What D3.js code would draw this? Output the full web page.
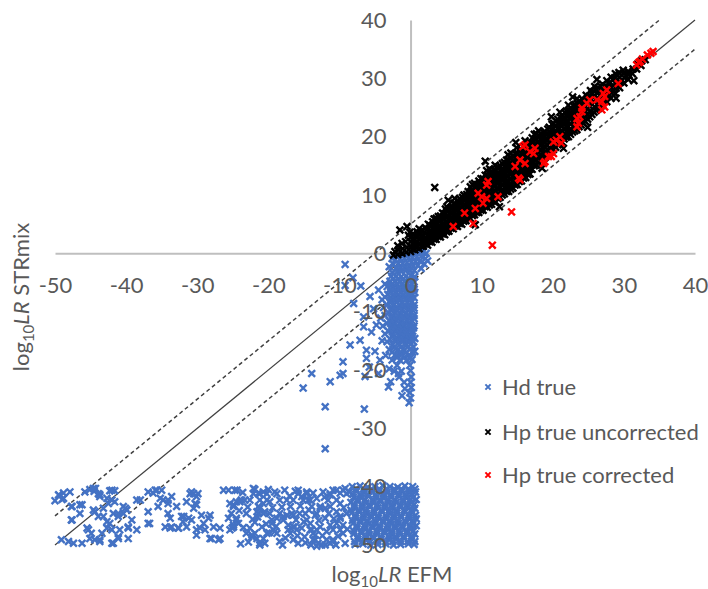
<!DOCTYPE html>
<html><head><meta charset="utf-8">
<script src="https://cdn.jsdelivr.net/npm/d3@7"></script>
<style>
body{margin:0;background:#fff}
svg{display:block}
text{font-family:Lato,"Open Sans",sans-serif;fill:#595959}
</style>
</head><body>
<svg id="chart" width="708" height="589"></svg>
<script>
const xTicks=[-50,-40,-30,-20,-10,0,10,20,30,40];
const yTicks=[-50,-40,-30,-20,-10,0,10,20,30,40];
const seriesNames=["Hd true","Hp true uncorrected","Hp true corrected"];
const seriesColors=["#4472C4","#000000","#FF0000"];
const identityLine=[[-50,-50],[40,40]];
const upperLine=[[-50,-45],[35,40]];
const lowerLine=[[-45,-50],[40,35]];

const hdTrue=[
[-9.2,-1.9],[-8.1,-4.2],[-9.2,-5.5],[-7.0,-5.6],[-8.0,-8.6],[-5.7,-7.4],[-4.5,-6.3],[-6.6,-10.9],[-5.2,-9.5],[-6.6,-12.6],[-4.8,-12.3],[-5.5,-13.5],[-7.1,-14.9],[-8.5,-15.7],[-4.0,-15.0],[-6.2,-16.6],[-5.0,-16.8],[-3.5,-17.5],[-6.2,-18.0],[-9.5,-18.6],[-4.3,-18.3],[-5.8,-19.5],[-3.0,-19.8],[-9.9,-20.9],[-9.5,-20.6],[-13.9,-20.6],[-6.4,-21.1],[-4.5,-20.6],[-1.7,-20.6],[-11.3,-22.0],[-2.8,-22.0],[-3.1,-22.9],[-15.1,-23.1],[-12.0,-26.3],[-6.5,-26.7],[-12.0,-33.5],
[-1.8,-0.6],[-1.2,-0.3],[-0.6,-0.2],[0.0,-0.1],[0.6,0.1],[1.2,0.2],[1.8,0.3],[2.2,0.0],
[-2.2,-1.2],[-1.5,-1.0],[-0.9,-0.9],[-0.3,-0.8],[0.3,-0.7],[0.9,-0.6],[1.5,-0.5],[2.1,-0.9],
[-2.4,-1.9],[-1.7,-1.8],[-1.1,-1.7],[-0.5,-1.6],[0.1,-1.5],[0.7,-1.4],[1.3,-1.3],[1.9,-1.8],
[-2.0,-2.6],[-1.4,-2.5],[-0.8,-2.4],[-0.2,-2.3],[0.4,-2.2],[1.0,-2.1],[1.5,-2.6],
[-2.6,-3.3],[-1.9,-3.2],[-1.3,-3.1],[-0.7,-3.0],[-0.1,-2.9],[0.5,-2.9],
[-2.6,-0.9],[-3.0,-2.3],[2.4,-1.3],
[-2.7,-3.9],[-2.0,-3.9],[-1.3,-4.0],[-0.6,-3.9],[0.1,-3.8],[0.6,-4.0],
[-2.4,-4.35],[-1.7,-4.35],[-1.0,-4.35],[-0.3,-4.35],[0.3,-4.35],
[-2.9,-4.8],[-2.2,-4.8],[-1.5,-4.9],[-0.8,-4.8],[-0.1,-4.7],[0.5,-4.9],
[-3.6,-5.25],[-2.6,-5.25],[-1.9,-5.25],[-1.2,-5.25],[-0.5,-5.25],[0.2,-5.25],
[-3.3,-5.7],[-2.5,-5.7],[-1.7,-5.8],[-1.0,-5.7],[-0.3,-5.6],[0.4,-5.8],
[-2.9,-6.15],[-2.2,-6.15],[-1.5,-6.15],[-0.8,-6.15],[-0.1,-6.15],[0.5,-6.15],
[-2.8,-6.6],[-2.1,-6.6],[-1.4,-6.7],[-0.7,-6.6],[0.0,-6.5],[0.6,-6.7],
[-3.2,-7.05],[-2.4,-7.05],[-1.7,-7.05],[-1.0,-7.05],[-0.3,-7.05],[0.3,-7.05],
[-3.6,-7.5],[-2.4,-7.5],[-1.6,-7.6],[-0.9,-7.5],[-0.2,-7.4],[0.5,-7.6],
[-4.0,-7.95],[-2.8,-7.95],[-2.1,-7.95],[-1.4,-7.95],[-0.7,-7.95],[0.0,-7.95],
[-2.9,-8.4],[-2.0,-8.4],[-1.2,-8.5],[-0.5,-8.4],[0.2,-8.3],
[-3.3,-8.85],[-2.4,-8.85],[-1.6,-8.85],[-0.8,-8.85],[-0.1,-8.85],[0.5,-8.85],
[-3.8,-9.3],[-2.6,-9.3],[-1.7,-9.4],[-0.9,-9.3],[-0.2,-9.2],[0.5,-9.4],
[-2.8,-9.75],[-2.0,-9.75],[-1.2,-9.75],[-0.4,-9.75],[0.3,-9.75],
[-3.1,-10.2],[-2.2,-10.2],[-1.4,-10.3],[-0.6,-10.2],[0.1,-10.1],
[-3.6,-10.65],[-2.5,-10.65],[-1.7,-10.65],[-0.9,-10.65],[-0.2,-10.65],[0.5,-10.65],
[-4.2,-11.1],[-2.7,-11.1],[-1.8,-11.2],[-1.0,-11.1],[-0.3,-11.0],[0.5,-11.2],
[-3.0,-11.55],[-2.0,-11.55],[-1.2,-11.55],[-0.5,-11.55],[0.2,-11.55],
[-3.3,-12.0],[-2.3,-12.0],[-1.5,-12.1],[-0.7,-12.0],[0.0,-11.9],
[-3.9,-12.45],[-2.6,-12.45],[-1.7,-12.45],[-0.9,-12.45],[-0.2,-12.45],[0.5,-12.45],
[-2.8,-12.9],[-1.9,-12.9],[-1.1,-13.0],[-0.4,-12.9],[0.4,-12.8],
[-3.1,-13.35],[-2.1,-13.35],[-1.3,-13.35],[-0.5,-13.35],[0.3,-13.35],
[-3.6,-13.8],[-2.4,-13.8],[-1.4,-13.9],[-0.6,-13.8],[0.2,-13.7],
[-2.6,-14.25],[-1.6,-14.25],[-0.8,-14.25],[0.0,-14.25],
[-2.9,-14.7],[-1.9,-14.7],[-1.0,-14.8],[-0.2,-14.7],[0.6,-14.6],
[-3.3,-15.15],[-2.1,-15.15],[-1.2,-15.15],[-0.4,-15.15],[0.4,-15.15],
[-2.5,-15.6],[-1.5,-15.6],[-0.6,-15.7],[0.1,-15.5],
[-2.3,-16.05],[-1.3,-16.05],[-0.4,-16.05],[0.4,-16.05],
[-3.0,-16.5],[-1.8,-16.5],[-0.9,-16.6],[0.0,-16.4],[0.6,-16.8],
[-2.6,-16.95],[-1.5,-16.95],[-0.6,-16.95],[0.3,-16.95],
[-2.2,-17.4],[-1.2,-17.4],[-0.3,-17.5],
[-1.9,-17.85],[-0.9,-17.85],[0.0,-17.85],
[-2.6,-18.3],[-1.5,-18.3],[-0.6,-18.4],[0.2,-18.2],
[-1.9,-19.2],[-0.1,-19.2],[-2.3,-20.2],[-1.3,-20.2],[0.0,-20.1],
[-1.6,-21.2],[0.1,-21.2],[-0.9,-22.1],[0.0,-22.1],
[0.1,-23.0],[-0.1,-23.9],[0.0,-24.8],[-0.2,-25.6],[-1.2,-24.4],[-0.8,-23.2],
[-50.0,-42.4],[-49.4,-41.5],[-48.8,-41.1],[-47.9,-40.9],[-49.0,-42.2],[-47.7,-43.4],[-46.5,-43.1],[-45.8,-40.9],[-45.1,-40.5],[-44.5,-40.8],[-43.9,-41.2],[-44.3,-40.3],[-43.7,-41.7],[-42.7,-42.0],[-42.3,-40.7],[-41.6,-40.7],[-41.6,-42.6],[-42.5,-42.9],[-44.4,-44.3],[-46.5,-44.6],[-47.7,-45.7],[-45.3,-47.4],[-44.9,-48.0],[-44.4,-49.1],[-43.7,-49.1],[-43.4,-48.0],[-43.2,-45.1],[-42.7,-46.0],[-42.3,-46.3],[-41.8,-44.6],[-41.1,-44.6],[-40.4,-43.4],[-40.4,-44.6],[-39.9,-44.0],[-39.2,-45.7],[-39.7,-47.1],[-40.9,-47.4],[-41.1,-48.6],[-41.8,-49.7],[-42.0,-47.4],[-38.5,-47.4],[-38.5,-42.3],[-38.0,-42.3],[-36.9,-44.3],[-36.7,-46.3],[-36.2,-41.1],[-35.7,-40.6],[-35.0,-40.6],[-34.8,-42.3],[-34.1,-42.9],[-34.1,-44.6],[-33.6,-41.7],[-33.8,-45.4],[-34.5,-46.9],[-33.8,-47.1],[-32.7,-47.1],[-32.2,-45.1],[-32.0,-46.0],[-31.5,-42.6],[-31.0,-41.2],[-30.5,-41.2],[-30.1,-41.7],[-29.9,-41.2],[-30.3,-42.9],[-30.5,-43.7],[-30.8,-45.7],[-30.1,-47.4],[-29.6,-47.1],[-28.9,-47.4],[-29.1,-46.3],[-28.4,-45.4],[-28.2,-44.9],[-28.2,-48.9],[-27.7,-46.9],[-27.0,-49.1],[-26.8,-47.1],[-26.3,-40.6],[-25.6,-40.6],
[-49.1,-49.1],[-48.1,-49.4],[-47.4,-49.7],[-46.2,-49.7],[-45.1,-48.9],[-43.7,-49.4],[-42.0,-49.7],[-41.1,-48.9],[-39.7,-48.9],[-39.7,-46.9],[-42.7,-47.1],[-45.5,-47.1],[-47.6,-45.7],[-47.6,-43.4],[-46.2,-43.1],[-44.6,-44.0],[-43.9,-45.1],[-43.2,-43.7],[-41.1,-45.1],[-40.1,-43.7],[-44.6,-40.3],[-43.7,-41.4],[-42.0,-40.6],[-42.0,-42.3],[-36.9,-40.9],[-35.9,-40.6],[-35.2,-42.0],[-35.5,-43.4],[-34.1,-42.3],[-32.9,-43.4],[-36.9,-46.3],[-33.6,-46.9],[-32.6,-47.1],[-31.5,-46.9],[-31.2,-45.4],[-31.9,-45.1],[-30.8,-40.9],[-30.1,-43.1],[-29.4,-44.9],[-30.1,-48.3],[-28.0,-48.9],[-26.8,-48.9],[-24.4,-40.6],[-25.4,-42.9],[-25.6,-45.4],[-25.1,-47.1],[-24.9,-43.1],[-48.8,-42.0],[-49.5,-41.4],
[-24.7,-40.6],[-24.9,-43.4],[-25.2,-44.6],[-24.5,-45.7],[-24.9,-46.9],[-25.4,-47.4],[-24.2,-46.3],[-24.0,-42.6],[-23.3,-42.3],[-23.1,-44.6],[-23.1,-48.0],[-22.3,-48.6],[-22.6,-42.3],[-22.1,-41.2],[-21.9,-40.5],[-21.2,-41.2],[-21.2,-42.3],[-21.4,-43.4],[-21.4,-44.6],[-20.7,-44.6],[-20.7,-42.9],[-20.2,-41.2],[-20.2,-48.0],[-20.5,-49.7],[-21.2,-50.0],[-21.6,-48.9],[-21.9,-48.0],[-20.2,-42.3],[-19.8,-44.6],[-19.5,-45.7],[-19.3,-47.4],[-18.8,-48.0],[-18.8,-41.2],[-18.4,-42.3],[-18.4,-44.6],[-17.9,-45.7],[-17.2,-47.4],[-16.9,-48.0],[-16.5,-46.9],[-16.0,-47.4],[-16.5,-49.1],[-15.8,-49.7],[-17.4,-42.3],[-16.5,-42.3],[-16.7,-44.6],[-15.8,-41.2],[-15.3,-41.7],[-15.1,-42.3],[-15.6,-44.6],[-14.8,-44.6],[-14.6,-45.7],[-14.1,-46.3],[-13.9,-47.4],[-13.7,-48.0],[-13.2,-47.4],[-12.7,-46.9],[-13.4,-49.1],[-13.2,-50.2],[-12.5,-50.0],[-12.0,-50.0],[-11.3,-49.7],[-10.9,-49.1],[-12.7,-43.4],[-12.0,-43.7],[-11.6,-42.3],[-11.3,-41.2],[-10.9,-40.6],[-10.4,-42.3],[-9.9,-42.9],[-9.5,-40.6],[-9.0,-41.2],[-9.0,-44.6],[-9.9,-45.1],[-10.4,-46.3],[-10.9,-47.4],[-9.5,-48.0],[-13.2,-44.6],[-13.9,-43.4],[-14.4,-42.3],[-14.6,-41.2],
[-24.5,-42.6],[-23.8,-42.3],[-24.5,-45.4],[-24.9,-46.6],[-22.1,-40.3],[-21.4,-41.1],[-20.7,-40.9],[-21.2,-43.7],[-21.6,-44.3],[-20.5,-44.3],[-19.8,-42.6],[-19.1,-40.9],[-17.7,-40.6],[-19.5,-46.3],[-18.8,-45.4],[-17.9,-45.1],[-17.2,-46.6],[-16.5,-44.9],[-16.3,-46.9],[-15.3,-47.1],[-15.8,-40.6],[-14.6,-40.9],[-14.1,-42.3],[-13.2,-42.0],[-12.7,-43.7],[-13.4,-44.9],[-11.3,-43.4],[-12.0,-45.4],[-11.3,-46.6],[-11.8,-47.7],[-13.4,-48.3],[-13.7,-49.1],[-13.0,-49.7],[-11.8,-49.1],[-10.9,-49.4],[-14.1,-47.4],[-14.9,-48.6],[-22.6,-47.1],[-22.3,-48.3],[-21.2,-49.7],[-20.7,-48.9],[-19.1,-47.7],[-18.4,-49.4],[-10.4,-40.6],[-9.2,-40.3],[-10.4,-44.3],[-9.9,-45.4],[-9.5,-46.6],[-9.9,-47.4],[-9.9,-41.1],[-12.3,-40.9],[-11.3,-41.4],
[-23.6,-41.0],[-22.9,-43.5],[-22.2,-45.6],[-23.5,-47.0],[-22.8,-49.5],[-21.9,-46.1],[-20.9,-46.9],[-20.0,-40.5],[-19.4,-43.6],[-18.9,-46.8],[-18.1,-43.5],[-17.6,-48.8],[-17.0,-41.6],[-16.9,-43.4],[-16.1,-45.7],[-15.5,-43.3],[-15.0,-46.0],[-14.8,-49.6],[-14.3,-44.0],[-13.7,-41.1],[-12.9,-45.8],[-12.4,-48.4],[-12.1,-41.8],[-11.5,-44.6],[-10.8,-45.5],[-10.2,-48.5],[-9.4,-43.6],[-9.2,-49.7],[-8.9,-47.3],[-10.5,-50.0],[-23.9,-49.8],[-24.1,-44.1],[-19.9,-47.9],[-18.0,-50.0],[-16.2,-40.8],[-14.0,-50.0],[-21.5,-45.2],[-20.3,-46.4],[-17.4,-44.9],[-15.9,-48.4],
[-8.2,-40.0],[-7.1,-39.9],[-6.0,-40.1],[-5.0,-40.0],[-3.9,-39.8],[-2.9,-40.0],[-1.8,-40.1],[-0.8,-39.9],[0.3,-40.0],
[-7.7,-40.4],[-6.6,-40.4],[-5.5,-40.4],[-4.4,-40.4],[-3.4,-40.4],[-2.3,-40.4],[-1.3,-40.4],[-0.3,-40.4],[0.6,-40.4],
[-8.6,-40.9],[-7.6,-40.8],[-6.5,-41.0],[-5.4,-40.9],[-4.4,-40.8],[-3.3,-41.0],[-2.3,-40.9],[-1.2,-40.8],[-0.2,-41.0],[0.7,-40.9],
[-8.1,-41.3],[-7.1,-41.3],[-6.0,-41.3],[-4.9,-41.3],[-3.8,-41.3],[-2.8,-41.3],[-1.7,-41.3],[-0.7,-41.3],[0.2,-41.3],
[-8.0,-41.8],[-6.9,-41.9],[-5.9,-41.7],[-4.8,-41.8],[-3.8,-41.9],[-2.7,-41.8],[-1.6,-41.7],[-0.6,-41.9],[0.4,-41.8],
[-7.5,-42.2],[-6.4,-42.2],[-5.3,-42.2],[-4.3,-42.2],[-3.2,-42.2],[-2.2,-42.2],[-1.1,-42.2],[-0.1,-42.2],[0.8,-42.2],
[-8.4,-42.7],[-7.4,-42.6],[-6.3,-42.8],[-5.2,-42.7],[-4.2,-42.6],[-3.1,-42.8],[-2.0,-42.7],[-1.0,-42.6],[0.1,-42.7],
[-7.9,-43.1],[-6.8,-43.1],[-5.8,-43.1],[-4.7,-43.1],[-3.6,-43.1],[-2.6,-43.1],[-1.5,-43.1],[-0.5,-43.1],[0.5,-43.1],
[-7.9,-43.6],[-6.8,-43.7],[-5.7,-43.5],[-4.6,-43.6],[-3.6,-43.7],[-2.5,-43.6],[-1.4,-43.5],[-0.4,-43.6],[0.6,-43.7],
[-8.4,-44.0],[-7.3,-44.0],[-6.3,-44.0],[-5.2,-44.0],[-4.1,-44.0],[-3.0,-44.0],[-2.0,-44.0],[-0.9,-44.0],[0.1,-44.0],
[-8.3,-44.5],[-7.2,-44.4],[-6.2,-44.6],[-5.1,-44.5],[-4.0,-44.4],[-2.9,-44.6],[-1.9,-44.5],[-0.8,-44.4],[0.3,-44.5],
[-7.8,-44.9],[-6.7,-44.9],[-5.6,-44.9],[-4.6,-44.9],[-3.5,-44.9],[-2.4,-44.9],[-1.4,-44.9],[-0.3,-44.9],[0.7,-44.9],
[-7.7,-45.4],[-6.6,-45.5],[-5.5,-45.3],[-4.5,-45.4],[-3.4,-45.5],[-2.3,-45.4],[-1.3,-45.3],[-0.2,-45.4],[0.8,-45.5],
[-8.2,-45.8],[-7.1,-45.8],[-6.1,-45.8],[-5.0,-45.8],[-3.9,-45.8],[-2.9,-45.8],[-1.8,-45.8],[-0.8,-45.8],[0.3,-45.8],
[-8.1,-46.3],[-7.0,-46.2],[-5.9,-46.4],[-4.9,-46.3],[-3.8,-46.2],[-2.7,-46.4],[-1.7,-46.3],[-0.6,-46.2],[0.4,-46.3],
[-7.6,-46.7],[-6.5,-46.7],[-5.4,-46.7],[-4.4,-46.7],[-3.3,-46.7],[-2.2,-46.7],[-1.2,-46.7],[-0.1,-46.7],[0.8,-46.7],
[-7.5,-47.2],[-6.4,-47.3],[-5.3,-47.1],[-4.3,-47.2],[-3.2,-47.3],[-2.1,-47.2],[-1.1,-47.1],[0.0,-47.2],
[-8.0,-47.6],[-6.9,-47.6],[-5.9,-47.6],[-4.8,-47.6],[-3.7,-47.6],[-2.7,-47.6],[-1.6,-47.6],[-0.5,-47.6],[0.4,-47.6],
[-8.0,-48.1],[-6.9,-48.0],[-5.8,-48.2],[-4.7,-48.1],[-3.6,-48.0],[-2.6,-48.2],[-1.5,-48.1],[-0.5,-48.0],[0.6,-48.1],
[-7.4,-48.5],[-6.4,-48.5],[-5.3,-48.5],[-4.2,-48.5],[-3.1,-48.5],[-2.1,-48.5],[-1.0,-48.5],[0.1,-48.5],
[-7.4,-49.0],[-6.3,-49.1],[-5.2,-48.9],[-4.1,-49.0],[-3.0,-49.1],[-2.0,-49.0],[-0.9,-48.9],[0.2,-49.0],
[-7.9,-49.4],[-6.8,-49.4],[-5.7,-49.4],[-4.6,-49.4],[-3.5,-49.4],[-2.5,-49.4],[-1.4,-49.4],[-0.4,-49.4],[0.6,-49.4],
[-7.8,-49.9],[-6.7,-49.8],[-5.6,-50.0],[-4.6,-49.9],[-3.5,-49.8],[-2.4,-50.0],[-1.4,-49.9],[-0.3,-49.8],[0.5,-49.9]
];

const hpUncorrected=[
[-2.4,-0.3],[-2.2,0.3],[-1.8,-0.2],[-1.7,0.6],[-1.8,1.3],[-1.5,4.0],[-1.2,0.0],[-1.1,0.8],[-1.2,1.7],[-0.6,0.2],[-0.5,1.0],[-0.7,2.0],[-0.5,4.6],[-0.3,3.1],
[0.0,0.3],[0.1,1.1],[0.0,2.0],[0.1,2.9],[-0.1,3.6],
[0.6,0.6],[0.7,1.4],[0.6,2.3],[0.5,3.2],
[1.2,0.8],[1.2,1.7],[1.3,2.6],[1.1,3.5],[1.2,4.2],
[1.8,1.2],[1.9,2.1],[1.8,3.0],[1.7,3.9],
[2.4,1.4],[2.5,2.3],[2.4,3.2],[2.3,4.1],[2.5,5.0],
[3.0,1.9],[3.1,2.8],[3.0,3.7],[2.9,4.6],[3.1,5.4],[3.4,11.3],
[3.6,2.4],[3.7,3.3],[3.6,4.2],[3.5,5.1],[3.6,6.0],
[4.2,2.8],[4.3,3.7],[4.2,4.6],[4.1,5.5],[4.2,6.4],
[4.8,3.2],[4.9,4.1],[4.8,5.0],[4.7,5.9],[4.8,6.8],[4.9,7.6],
[5.4,3.8],[5.5,4.7],[5.4,5.6],[5.3,6.5],[5.4,7.4],[5.3,9.1],
[6.0,4.2],[6.1,5.1],[6.0,6.0],[5.9,6.9],[6.0,7.8],[6.1,8.6],[6.2,9.4],
[6.6,4.6],[6.7,5.5],[6.6,6.4],[6.5,7.3],[6.6,8.2],[6.7,9.0],
[7.2,5.0],[7.3,5.9],[7.2,6.8],[7.1,7.7],[7.2,8.6],[7.3,9.6],
[7.8,5.6],[7.9,6.5],[7.8,7.4],[7.7,8.3],[7.8,9.2],[7.9,10.1],
[8.4,6.0],[8.5,6.9],[8.4,7.8],[8.3,8.7],[8.4,9.6],[8.5,10.5],[8.4,11.4],
[9.1,4.9],[9.0,6.6],[9.1,7.5],[9.0,8.4],[8.9,9.3],[9.0,10.2],[9.1,11.1],[9.0,12.0],
[9.6,7.0],[9.7,7.9],[9.6,8.8],[9.5,9.7],[9.6,10.6],[9.7,11.5],[9.6,12.4],
[10.2,7.4],[10.3,8.3],[10.2,9.2],[10.1,10.1],[10.2,11.0],[10.3,11.9],[10.2,12.8],[10.5,15.8],
[10.8,7.9],[10.9,8.8],[10.8,9.7],[10.7,10.6],[10.8,11.5],[10.9,12.4],[10.8,13.3],[10.7,14.2],
[11.4,8.4],[11.5,9.3],[11.4,10.2],[11.3,11.1],[11.4,12.0],[11.5,12.9],[11.4,13.8],
[12.0,8.8],[12.1,9.7],[12.0,10.6],[11.9,11.5],[12.0,12.4],[12.1,13.3],[12.0,14.2],[11.9,15.1],[12.5,8.0],
[12.6,9.6],[12.7,10.5],[12.6,11.4],[12.5,12.3],[12.6,13.2],[12.7,14.1],[12.6,15.0],
[13.2,10.2],[13.3,11.1],[13.2,12.0],[13.1,12.9],[13.2,13.8],[13.3,14.7],[13.2,15.6],
[13.8,10.6],[13.9,11.5],[13.8,12.4],[13.7,13.3],[13.8,14.2],[13.9,15.1],[13.8,16.0],[13.7,16.9],
[14.4,11.2],[14.5,12.1],[14.4,13.0],[14.3,13.9],[14.4,14.8],[14.5,15.7],[14.4,16.6],[14.8,19.0],
[15.0,11.8],[15.1,12.7],[15.0,13.6],[14.9,14.5],[15.0,15.4],[15.1,16.3],[15.0,17.2],[14.9,18.1],
[15.6,12.4],[15.7,13.3],[15.6,14.2],[15.5,15.1],[15.6,16.0],[15.7,16.9],[15.6,17.8],
[16.2,13.0],[16.3,13.9],[16.2,14.8],[16.1,15.7],[16.2,16.6],[16.3,17.5],[16.2,18.4],[16.1,19.3],
[16.8,13.6],[16.9,14.5],[16.8,15.4],[16.7,16.3],[16.8,17.2],[16.9,18.1],[16.8,19.0],
[17.4,15.0],[17.5,15.9],[17.4,16.8],[17.3,17.7],[17.4,18.6],[17.5,19.5],[17.4,20.4],
[18.0,15.6],[18.1,16.5],[18.0,17.4],[17.9,18.3],[18.0,19.2],[18.1,20.1],[18.0,21.0],[18.5,14.6],
[18.6,16.2],[18.7,17.1],[18.6,18.0],[18.5,18.9],[18.6,19.8],[18.7,20.7],
[19.2,16.8],[19.3,17.7],[19.2,18.6],[19.1,19.5],[19.2,20.4],[19.3,21.3],
[19.8,17.6],[19.9,18.5],[19.8,19.4],[19.7,20.3],[19.8,21.2],[19.9,22.1],[19.8,23.4],
[20.4,18.2],[20.5,19.1],[20.4,20.0],[20.3,20.9],[20.4,21.8],[20.5,22.7],
[21.0,18.8],[21.1,19.7],[21.0,20.6],[20.9,21.5],[21.0,22.4],[21.1,23.3],[21.0,24.2],[21.5,18.0],
[21.6,19.6],[21.7,20.5],[21.6,21.4],[21.5,22.3],[21.6,23.2],[21.7,24.1],
[22.2,20.0],[22.3,20.9],[22.2,21.8],[22.1,22.7],[22.2,23.6],[22.3,24.5],[22.2,25.4],
[22.8,20.8],[22.9,21.7],[22.8,22.6],[22.7,23.5],[22.8,24.4],[22.9,25.3],[22.8,26.8],
[23.4,21.2],[23.5,22.1],[23.4,23.0],[23.3,23.9],[23.4,24.8],[23.5,25.7],[23.4,26.5],
[24.0,22.0],[24.1,22.9],[24.0,23.8],[23.9,24.7],[24.0,25.6],[24.1,26.5],
[24.6,22.6],[24.7,23.5],[24.6,24.4],[24.5,25.3],[24.6,26.2],[24.7,27.1],[24.9,21.6],
[25.2,23.4],[25.3,24.3],[25.2,25.2],[25.1,26.1],[25.2,27.0],[25.3,27.9],
[25.8,24.2],[25.9,25.1],[25.8,26.0],[25.7,26.9],[25.8,27.8],[25.9,28.6],
[26.4,24.8],[26.5,25.7],[26.4,26.6],[26.3,27.5],[26.4,28.4],[26.2,29.8],
[27.0,25.4],[27.1,26.3],[27.0,27.2],[26.9,28.1],[27.0,29.0],
[27.6,26.0],[27.7,26.9],[27.6,27.8],[27.5,28.7],[27.6,29.6],
[28.2,26.6],[28.3,27.5],[28.2,28.4],[28.1,29.3],[28.2,30.2],
[28.8,27.4],[28.9,28.3],[28.8,29.2],[28.7,30.1],[28.8,30.8],[28.9,26.6],
[29.4,28.4],[29.5,29.3],[29.4,30.2],[29.3,31.0],
[30.0,29.2],[30.1,30.1],[30.0,30.9],[29.9,31.4],
[30.6,29.8],[30.7,30.6],[30.6,31.2],[31.4,29.6],
[31.2,30.8],[31.3,31.6],[31.8,31.6],[31.9,32.4],[32.4,32.2],[32.5,33.0],[33.0,33.2],
[0.3,0.7],[0.3,1.6],[0.3,2.5],[0.3,3.3],
[0.9,1.0],[0.9,1.9],[0.9,2.8],[0.9,3.7],
[1.5,1.2],[1.5,2.1],[1.5,3.0],[1.5,3.9],
[2.1,1.6],[2.1,2.5],[2.1,3.4],[2.1,4.4],
[2.7,2.0],[2.7,2.9],[2.7,3.8],[2.7,4.8],
[3.3,2.4],[3.3,3.3],[3.3,4.2],[3.3,5.1],[3.3,5.9],
[3.9,2.9],[3.9,3.8],[3.9,4.7],[3.9,5.6],[3.9,6.3],
[4.5,3.3],[4.5,4.2],[4.5,5.1],[4.5,6.0],[4.5,6.9],
[5.1,3.7],[5.1,4.6],[5.1,5.5],[5.1,6.4],[5.1,7.3],[5.1,8.0],
[5.7,4.3],[5.7,5.2],[5.7,6.1],[5.7,7.0],[5.7,7.9],
[6.3,4.7],[6.3,5.6],[6.3,6.5],[6.3,7.4],[6.3,8.3],
[6.9,5.1],[6.9,6.0],[6.9,6.9],[6.9,7.8],[6.9,8.7],[6.9,9.4],
[7.5,5.5],[7.5,6.4],[7.5,7.3],[7.5,8.2],[7.5,9.1],[7.5,10.0],
[8.1,6.1],[8.1,7.0],[8.1,7.9],[8.1,8.8],[8.1,9.7],[8.1,10.6],
[8.7,6.5],[8.7,7.4],[8.7,8.3],[8.7,9.2],[8.7,10.1],[8.7,11.0],[8.7,11.8],
[9.3,7.0],[9.3,7.9],[9.3,8.8],[9.3,9.7],[9.3,10.6],[9.3,11.5],
[9.9,7.4],[9.9,8.3],[9.9,9.2],[9.9,10.1],[9.9,11.0],[9.9,11.9],[9.9,12.8],
[10.5,8.0],[10.5,8.9],[10.5,9.8],[10.5,10.7],[10.5,11.6],[10.5,12.5],[10.5,13.4],
[11.1,8.3],[11.1,9.2],[11.1,10.1],[11.1,11.0],[11.1,11.9],[11.1,12.8],[11.1,13.7],[11.1,14.5],
[11.7,8.9],[11.7,9.8],[11.7,10.7],[11.7,11.6],[11.7,12.5],[11.7,13.4],[11.7,14.3],
[12.3,9.4],[12.3,10.3],[12.3,11.2],[12.3,12.1],[12.3,13.0],[12.3,13.9],[12.3,14.8],
[12.9,10.0],[12.9,10.9],[12.9,11.8],[12.9,12.7],[12.9,13.6],[12.9,14.5],[12.9,15.4],
[13.5,10.6],[13.5,11.5],[13.5,12.4],[13.5,13.3],[13.5,14.2],[13.5,15.1],[13.5,16.0],
[14.1,11.0],[14.1,11.9],[14.1,12.8],[14.1,13.7],[14.1,14.6],[14.1,15.5],[14.1,16.4],[14.1,17.2],
[14.7,11.7],[14.7,12.6],[14.7,13.5],[14.7,14.4],[14.7,15.3],[14.7,16.2],[14.7,17.1],
[15.3,12.3],[15.3,13.2],[15.3,14.1],[15.3,15.0],[15.3,15.9],[15.3,16.8],[15.3,17.7],
[15.9,12.9],[15.9,13.8],[15.9,14.7],[15.9,15.6],[15.9,16.5],[15.9,17.4],[15.9,18.3],
[16.5,13.5],[16.5,14.4],[16.5,15.3],[16.5,16.2],[16.5,17.1],[16.5,18.0],[16.5,18.9],
[17.1,14.4],[17.1,15.3],[17.1,16.2],[17.1,17.1],[17.1,18.0],[17.1,18.9],[17.1,19.8],
[17.7,15.1],[17.7,16.0],[17.7,16.9],[17.7,17.8],[17.7,18.7],[17.7,19.6],[17.7,20.5],
[18.3,15.9],[18.3,16.8],[18.3,17.7],[18.3,18.6],[18.3,19.5],[18.3,20.4],
[18.9,16.4],[18.9,17.3],[18.9,18.2],[18.9,19.1],[18.9,20.0],[18.9,20.9],
[19.5,17.2],[19.5,18.1],[19.5,19.0],[19.5,19.9],[19.5,20.8],[19.5,21.6],
[20.1,17.8],[20.1,18.7],[20.1,19.6],[20.1,20.5],[20.1,21.4],[20.1,22.3],
[20.7,18.6],[20.7,19.5],[20.7,20.4],[20.7,21.3],[20.7,22.2],[20.7,23.0],
[21.3,19.1],[21.3,20.0],[21.3,20.9],[21.3,21.8],[21.3,22.7],[21.3,23.6],
[21.9,19.9],[21.9,20.8],[21.9,21.7],[21.9,22.6],[21.9,23.5],[21.9,24.4],
[22.5,20.4],[22.5,21.3],[22.5,22.2],[22.5,23.1],[22.5,24.0],[22.5,24.9],
[23.1,21.0],[23.1,21.9],[23.1,22.8],[23.1,23.7],[23.1,24.6],[23.1,25.5],
[23.7,21.7],[23.7,22.6],[23.7,23.5],[23.7,24.4],[23.7,25.3],[23.7,26.1],
[24.3,22.3],[24.3,23.2],[24.3,24.1],[24.3,25.0],[24.3,25.9],
[24.9,23.0],[24.9,23.9],[24.9,24.8],[24.9,25.7],[24.9,26.6],
[25.5,23.8],[25.5,25.6],[25.5,27.4],[26.1,24.5],[26.1,26.3],[26.1,28.1],
[26.7,25.1],[26.7,26.9],[26.7,28.7],[27.3,26.8],[27.3,28.6],[27.9,27.3],[27.9,29.1],
[28.5,28.0],[28.5,29.8],[29.1,28.8],[29.1,30.5],[29.7,29.7],[30.3,30.4]
];

const hpCorrected=[
[34.1,34.6],[33.8,34.3],[33.3,34.0],[32.3,32.9],[31.8,32.3],[32.1,32.7],[32.6,33.3],
[29.2,29.1],[27.6,28.0],[27.3,26.9],[27.3,25.1],[26.9,24.6],[26.2,26.3],[25.2,26.3],[24.8,25.7],[24.1,24.3],[23.8,23.4],[23.6,22.3],[23.4,21.7],[27.1,27.4],[26.9,26.0],[24.1,24.9],[23.4,23.1],
[21.0,20.0],[20.5,19.4],[20.1,19.1],[21.2,18.9],[20.1,17.1],[19.4,16.6],[18.7,15.4],[17.5,18.0],[17.3,17.1],[16.8,17.4],[15.8,18.3],[16.1,15.4],[15.4,16.0],[14.7,14.9],[15.4,12.6],[15.2,12.9],[18.9,15.7],[19.8,16.6],[16.1,18.6],
[10.9,12.3],[10.7,11.7],[9.5,10.3],[10.0,9.7],[10.7,9.4],[10.2,8.6],[12.3,9.7],[9.1,7.7],[7.6,6.9],[8.8,5.1],[6.0,4.6],[14.2,7.1],[11.5,1.4]
];

const svg=d3.select("#chart");
const x=d3.scaleLinear().domain([-50,40]).range([55,695]);
const y=d3.scaleLinear().domain([-50,40]).range([545,20]);

const xAxis=d3.axisBottom(x).tickValues(xTicks).tickFormat(d=>String(d)).tickSize(0).tickSizeOuter(0).tickPadding(24);
const yAxis=d3.axisLeft(y).tickValues(yTicks).tickFormat(d=>String(d)).tickSize(0).tickSizeOuter(0).tickPadding(24);

// axis lines (below marks)
const lineLayer=svg.append("g");
const gxl=lineLayer.append("g").attr("transform",`translate(0,${y(0)})`).call(xAxis);
const gyl=lineLayer.append("g").attr("transform",`translate(${x(0)},0)`).call(yAxis);
[gxl,gyl].forEach(g=>{g.selectAll(".tick").remove();g.select(".domain").attr("stroke","#BFBFBF").attr("stroke-width",2);});

// reference lines
const line=d3.line().x(d=>x(d[0])).y(d=>y(d[1]));
svg.append("path").attr("d",line(identityLine)).attr("fill","none").attr("stroke","#404040").attr("stroke-width",1.2);
svg.append("path").attr("d",line(upperLine)).attr("fill","none").attr("stroke","#404040").attr("stroke-width",1.5).attr("stroke-dasharray","4,3");
svg.append("path").attr("d",line(lowerLine)).attr("fill","none").attr("stroke","#404040").attr("stroke-width",1.5).attr("stroke-dasharray","4,3");

const cross="M-3.4,-3.4L3.4,3.4M-3.4,3.4L3.4,-3.4";
[hdTrue,hpUncorrected,hpCorrected].forEach((data,i)=>{
  svg.append("g").selectAll("path").data(data).join("path")
    .attr("d",cross)
    .attr("transform",d=>`translate(${x(d[0])},${y(d[1])})`)
    .attr("stroke",seriesColors[i]).attr("stroke-width",2.4).attr("fill","none");
});

// tick labels (above marks)
const gxt=svg.append("g").attr("transform",`translate(0,${y(0)})`).call(xAxis);
const gyt=svg.append("g").attr("transform",`translate(${x(0)},0)`).call(yAxis);
[gxt,gyt].forEach(g=>{g.select(".domain").remove();g.selectAll("text").attr("fill","#595959").style("font-size","22px").style("font-family","Lato,'Open Sans',sans-serif");});

// axis titles
const xt=svg.append("text").attr("x",392).attr("y",582).attr("text-anchor","middle").style("font-size","22px");
xt.append("tspan").text("log");
xt.append("tspan").attr("dy",5).style("font-size","15px").text("10");
xt.append("tspan").attr("dy",-5).style("font-style","italic").text("LR");
xt.append("tspan").text(" EFM");

const yt=svg.append("text").attr("transform","translate(29,297) rotate(-90)").attr("text-anchor","middle").style("font-size","22px");
yt.append("tspan").text("log");
yt.append("tspan").attr("dy",5).style("font-size","15px").text("10");
yt.append("tspan").attr("dy",-5).style("font-style","italic").text("LR");
yt.append("tspan").text("  STRmix");

// legend
const legendY=[387,432,475];
const lg=svg.append("g");
seriesNames.forEach((name,i)=>{
  lg.append("path").attr("d","M-2.6,-2.6L2.6,2.6M-2.6,2.6L2.6,-2.6")
    .attr("transform",`translate(488,${legendY[i]})`)
    .attr("stroke",seriesColors[i]).attr("stroke-width",2).attr("fill","none");
  lg.append("text").attr("x",502).attr("y",legendY[i]).attr("dy","0.35em").style("font-size","22px").text(name);
});
</script>
</body></html>
